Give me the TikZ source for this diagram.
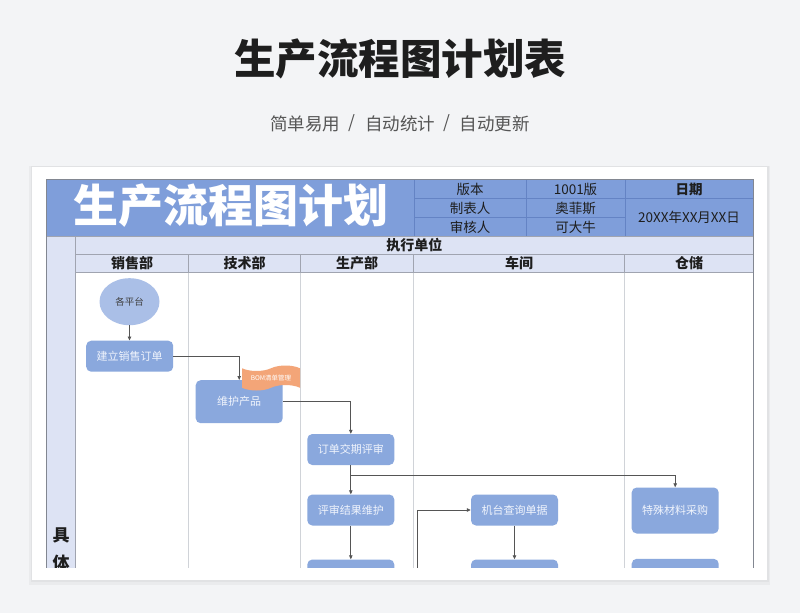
\documentclass[tikz,border=0pt]{standalone}
\usepackage{fontspec}
\setmainfont{Noto Sans CJK SC}
\usetikzlibrary{arrows.meta,shapes.symbols,shapes.geometric}
\definecolor{bg}{RGB}{243,244,246}
\definecolor{band}{RGB}{127,158,218}
\definecolor{bandline}{RGB}{100,131,196}
\definecolor{lav}{RGB}{221,227,244}
\definecolor{hdrline}{RGB}{160,164,176}
\definecolor{bodyline}{RGB}{208,211,216}
\definecolor{outer}{RGB}{130,135,145}
\definecolor{nodeblue}{RGB}{138,168,221}
\definecolor{ellblue}{RGB}{170,191,231}
\definecolor{flag}{RGB}{243,165,120}
\definecolor{arrowgray}{RGB}{85,85,85}
\definecolor{darktext}{RGB}{30,30,30}
\definecolor{subgray}{RGB}{85,85,85}
\definecolor{nodetext}{RGB}{240,244,252}
\begin{document}
\begin{tikzpicture}[x=1pt,y=-1pt,
  proc/.style={rectangle, rounded corners=5pt, fill=nodeblue, text=nodetext,
    minimum width=87pt, minimum height=31pt, inner sep=0pt,
    font=\fontsize{11}{11}\selectfont},
  arr/.style={draw=arrowgray, line width=0.8pt, -{Triangle[length=4pt,width=3.5pt]}},
  info/.style={text=darktext, inner sep=0pt, font=\fontsize{13.5}{13.5}\selectfont},
  dept/.style={text=darktext, inner sep=0pt, font=\bfseries\fontsize{14}{14}\selectfont},
  sub/.style={text=subgray, inner sep=0pt, font=\fontsize{17.5}{17.5}\selectfont}]
\useasboundingbox (0,0) rectangle (800,613);
\fill[bg] (0,0) rectangle (800,613);
% page title
\node[text=darktext, inner sep=0pt, font=\bfseries\fontsize{41.5}{41.5}\selectfont] (title) at (400,59) {生产流程图计划表};
\node[sub] (s1) at (305.3,123.5) {简单易用};
\node[sub] (d1) at (352,123.5) {/};
\node[sub] (s2) at (400.3,123.5) {自动统计};
\node[sub] (d2) at (446.7,123.5) {/};
\node[sub] (s3) at (494.7,123.5) {自动更新};
% card
\fill[black, opacity=0.035] (29,166) rectangle (770,585);
\fill[black, opacity=0.035] (30.5,166) rectangle (768.5,582);
\fill[white] (32,167) rectangle (767,580);
\begin{scope}
\clip (40,170) rectangle (760,567.5);
% title band
\fill[band] (46.5,179.5) rectangle (753,236);
\fill[lav] (46.5,236) rectangle (753,272.7);
\fill[lav] (46.5,272.7) rectangle (75.7,600);
\fill[white] (75.7,272.7) rectangle (753,600);
% info grid lines
\draw[bandline, line width=0.6pt] (414,179.5) -- (414,236);
\draw[bandline, line width=0.6pt] (526,179.5) -- (526,236);
\draw[bandline, line width=0.6pt] (625,179.5) -- (625,236);
\draw[bandline, line width=0.6pt] (414,198.3) -- (753,198.3);
\draw[bandline, line width=0.6pt] (414,217.3) -- (625,217.3);
% header rows lines
\draw[hdrline, line width=0.7pt] (46.5,236) -- (753,236);
\draw[hdrline, line width=0.7pt] (75.7,254.3) -- (753,254.3);
\draw[hdrline, line width=0.7pt] (75.7,272.7) -- (753,272.7);
\draw[hdrline, line width=0.7pt] (75.7,236) -- (75.7,600);
\foreach \cx in {188.3,300.7,413.3,624.5}{
  \draw[hdrline, line width=0.7pt] (\cx,254.3) -- (\cx,272.7);
  \draw[bodyline, line width=0.7pt] (\cx,272.7) -- (\cx,600);
}
% outer border
\draw[outer, line width=0.8pt] (46.5,600) -- (46.5,179.5) -- (753,179.5) -- (753,600);
% band texts
\node[text=white, inner sep=0pt, font=\bfseries\fontsize{45}{45}\selectfont] (big) at (230.5,206) {生产流程图计划};
\node[info] (v1) at (470,189) {版本};
\node[info] (v2) at (575.5,189) {1001版};
\node[info, font=\bfseries\fontsize{13.5}{13.5}\selectfont] (v3) at (689,189) {日期};
\node[info] (m1) at (470,208) {制表人};
\node[info] (m2) at (575.5,208) {奥菲斯};
\node[info] (a1) at (470,227) {审核人};
\node[info] (a2) at (575.5,227) {可大牛};
\node[info] (dt) at (689,217) {20XX年XX月XX日};
\node[dept] (exec) at (414.3,245) {执行单位};
\node[dept] (h1) at (132,263.5) {销售部};
\node[dept] (h2) at (244.5,263.5) {技术部};
\node[dept] (h3) at (357,263.5) {生产部};
\node[dept] (h4) at (519,263.5) {车间};
\node[dept] (h5) at (689,263.5) {仓储};
\node[text=darktext, inner sep=0pt, font=\bfseries\fontsize{17}{17}\selectfont] (ju) at (61,535.5) {具};
\node[text=darktext, inner sep=0pt, font=\bfseries\fontsize{17}{17}\selectfont] (ti) at (61,563.5) {体};
% flow nodes
\node[ellipse, fill=ellblue, minimum width=60pt, minimum height=47pt, inner sep=0pt,
  font=\fontsize{9.5}{9.5}\selectfont, text=darktext!85] (plat) at (129.5,301.7) {各平台};
\node[proc] (order) at (129.7,356.2) {建立销售订单};
\node[proc, minimum height=43pt] (prod) at (239.2,401.7) {维护产品};
\node[tape, fill=flag, minimum width=58pt, minimum height=25pt, tape bend height=5.5pt,
  inner sep=0pt, text=white, font=\fontsize{6.5}{6.5}\selectfont] (bom) at (271,378) {BOM清单管理};
\node[proc] (review) at (350.8,449.5) {订单交期评审};
\node[proc] (result) at (350.8,510) {评审结果维护};
\node[proc] (query) at (514.5,510) {机台查询单据};
\node[proc, minimum height=46pt] (special) at (675.2,510.5) {特殊材料采购};
\node[proc] (result2) at (350.8,575) {};
\node[proc] (query2) at (514.5,575) {};
\node[proc] (special2) at (675.2,574.3) {};
% connectors
\draw[arr] (plat.south) -- (plat.south |- order.north);
\draw[arr] (order.east) -| (prod.north);
\draw[arr] (prod.east) -| (review.north);
\draw[arr] (review.south) -- (result.north);
\coordinate (br) at (350.8,475);
\draw[arr] (br) -| (special.north);
\draw[arr] (result.south) -- (result2.north);
\draw[arr] (query.south) -- (query2.north);
\coordinate (up) at (417.7,590);
\draw[arr] (up) |- (query.west);
\end{scope}
\end{tikzpicture}
\end{document}
